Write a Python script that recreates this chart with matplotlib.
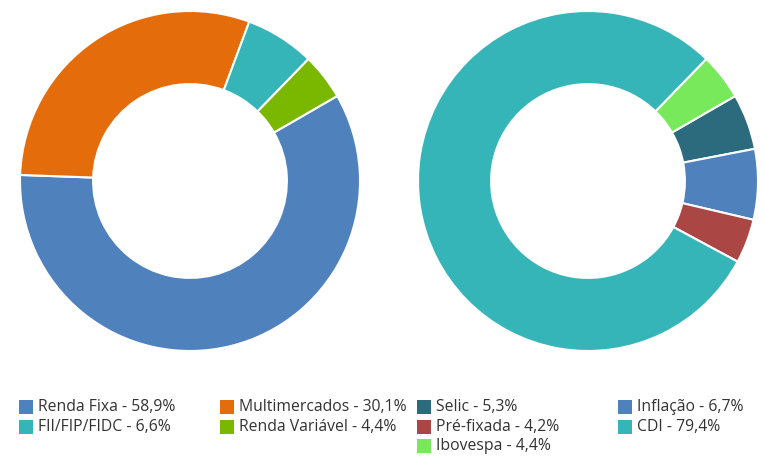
import matplotlib
matplotlib.use("Agg")
import matplotlib.pyplot as plt
from matplotlib.patches import Rectangle

plt.rcParams['font.family'] = ['Open Sans', 'DejaVu Sans']

# === dados ===
left_labels = ['Renda Fixa', 'Multimercados', 'FII/FIP/FIDC', 'Renda Variável']
left_values = [58.9, 30.1, 6.6, 4.4]
left_colors = ['#4F81BD', '#E46C0A', '#35B5B8', '#7AB800']

right_labels = ['Selic', 'Inflação', 'Pré-fixada', 'CDI', 'Ibovespa']
right_values = [5.3, 6.7, 4.2, 79.4, 4.4]
right_colors = ['#2C6B7D', '#4F81BD', '#AA4643', '#35B5B8', '#77E95B']

W, H = 764, 462
fig = plt.figure(figsize=(W / 100, H / 100), dpi=100)


def donut(cx, cy, r, values, colors, start):
    ax = fig.add_axes([(cx - r) / W, (H - cy - r) / H, 2 * r / W, 2 * r / H])
    ax.pie(values, colors=colors, startangle=start, counterclock=False,
           radius=1, wedgeprops=dict(width=0.43, edgecolor='white', linewidth=1.5))
    ax.set_xlim(-1, 1)
    ax.set_ylim(-1, 1)
    ax.set_aspect('equal')
    ax.axis('off')


donut(190, 181, 170, left_values, left_colors, 30.0)
donut(588, 181, 170, right_values, right_colors, 30.0)


def legend(x0, labels, values, colors):
    for i, (lab, val, col) in enumerate(zip(labels, values, colors)):
        x = x0 + (i % 2) * 201
        y = 407 + (i // 2) * 19.6
        fig.patches.append(Rectangle((x / W, (H - y - 7) / H), 14 / W, 14 / H,
                                     transform=fig.transFigure, facecolor=col,
                                     edgecolor='none'))
        txt = f"{lab} - {val:.1f}%".replace('.', ',')
        fig.text((x + 19) / W, (H - y) / H, txt, fontsize=11.3, color='#333333',
                 va='center', ha='left')


legend(19, left_labels, left_values, left_colors)
legend(417, right_labels, right_values, right_colors)

fig.savefig('out.png', dpi=100)
